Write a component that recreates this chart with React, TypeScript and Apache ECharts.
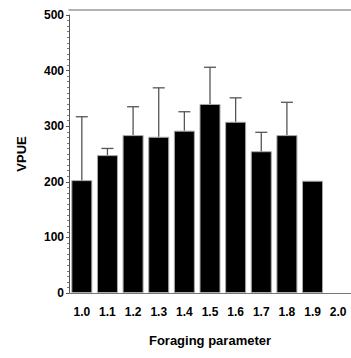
import React, { useEffect, useRef } from "react";
import * as echarts from "echarts";

const categories = ["1.0", "1.1", "1.2", "1.3", "1.4", "1.5", "1.6", "1.7", "1.8", "1.9", "2.0"];
const means: (number | null)[] = [203, 248, 284, 281, 292, 340, 308, 255, 284, 202, null];
const upper: (number | null)[] = [317, 260, 335, 369, 326, 406, 351, 289, 343, null, null];
const yTicks = [0, 100, 200, 300, 400, 500];

const FONT = "'Liberation Sans', Arial, sans-serif";

export default function App() {
  const ref = useRef<HTMLDivElement>(null);
  useEffect(() => {
    document.body.style.margin = "0";
    const chart = echarts.init(ref.current!, null, { renderer: "svg" });
    const errData = categories
      .map((c, i) => (means[i] != null && upper[i] != null ? [i, means[i], upper[i]] : null))
      .filter((d) => d !== null);
    chart.setOption({
      animation: false,
      backgroundColor: "#fff",
      grid: { left: 69, top: 15, width: 285, bottom: 65, containLabel: false },
      xAxis: [
        {
          type: "category",
          data: categories,
          position: "bottom",
          name: "Foraging parameter",
          nameLocation: "middle",
          nameGap: 41,
          nameTextStyle: { fontFamily: FONT, fontWeight: "bold", fontSize: 13, color: "#000" },
          axisLine: { lineStyle: { color: "#777", width: 1 } },
          axisTick: { show: false },
          axisLabel: { fontFamily: FONT, fontWeight: "bold", fontSize: 12, color: "#000", margin: 13, interval: 0 },
        },
        {
          type: "category",
          data: categories,
          position: "top",
          offset: 5,
          axisLine: { show: true, lineStyle: { color: "#999", width: 1.5 } },
          axisTick: { show: false },
          axisLabel: { show: false },
        },
      ],
      yAxis: {
        type: "value",
        min: yTicks[0],
        max: yTicks[yTicks.length - 1],
        interval: 100,
        name: "VPUE",
        nameLocation: "middle",
        nameGap: 41,
        nameTextStyle: { fontFamily: FONT, fontWeight: "bold", fontSize: 13, color: "#000" },
        axisLine: { show: true, lineStyle: { color: "#555", width: 1 } },
        axisTick: { show: true, length: 3, lineStyle: { color: "#555" } },
        minorTick: { show: true, splitNumber: 10, length: 2, lineStyle: { color: "#777" } },
        splitLine: { show: false },
        axisLabel: { fontFamily: FONT, fontWeight: "bold", fontSize: 12, color: "#000", margin: 5 },
      },
      series: [
        {
          type: "bar",
          data: means.map((v) => (v == null ? "-" : v)),
          barWidth: 21,
          itemStyle: { color: "#000", borderColor: "#aaa", borderWidth: 1 },
          z: 2,
        },
        {
          type: "custom",
          data: errData,
          encode: { x: 0, y: [1, 2] },
          z: 3,
          renderItem: (params: any, api: any) => {
            const i = api.value(0);
            const lo = api.coord([i, api.value(1)]);
            const hi = api.coord([i, api.value(2)]);
            const hw = 6;
            const style = { stroke: "#555", lineWidth: 1.3, fill: "none" };
            return {
              type: "group",
              children: [
                { type: "line", shape: { x1: lo[0], y1: lo[1], x2: hi[0], y2: hi[1] }, style },
                { type: "line", shape: { x1: hi[0] - hw, y1: hi[1], x2: hi[0] + hw, y2: hi[1] }, style },
              ],
            };
          },
        },
      ],
    });
    return () => chart.dispose();
  }, []);
  return <div ref={ref} style={{ width: 351, height: 358 }} />;
}
